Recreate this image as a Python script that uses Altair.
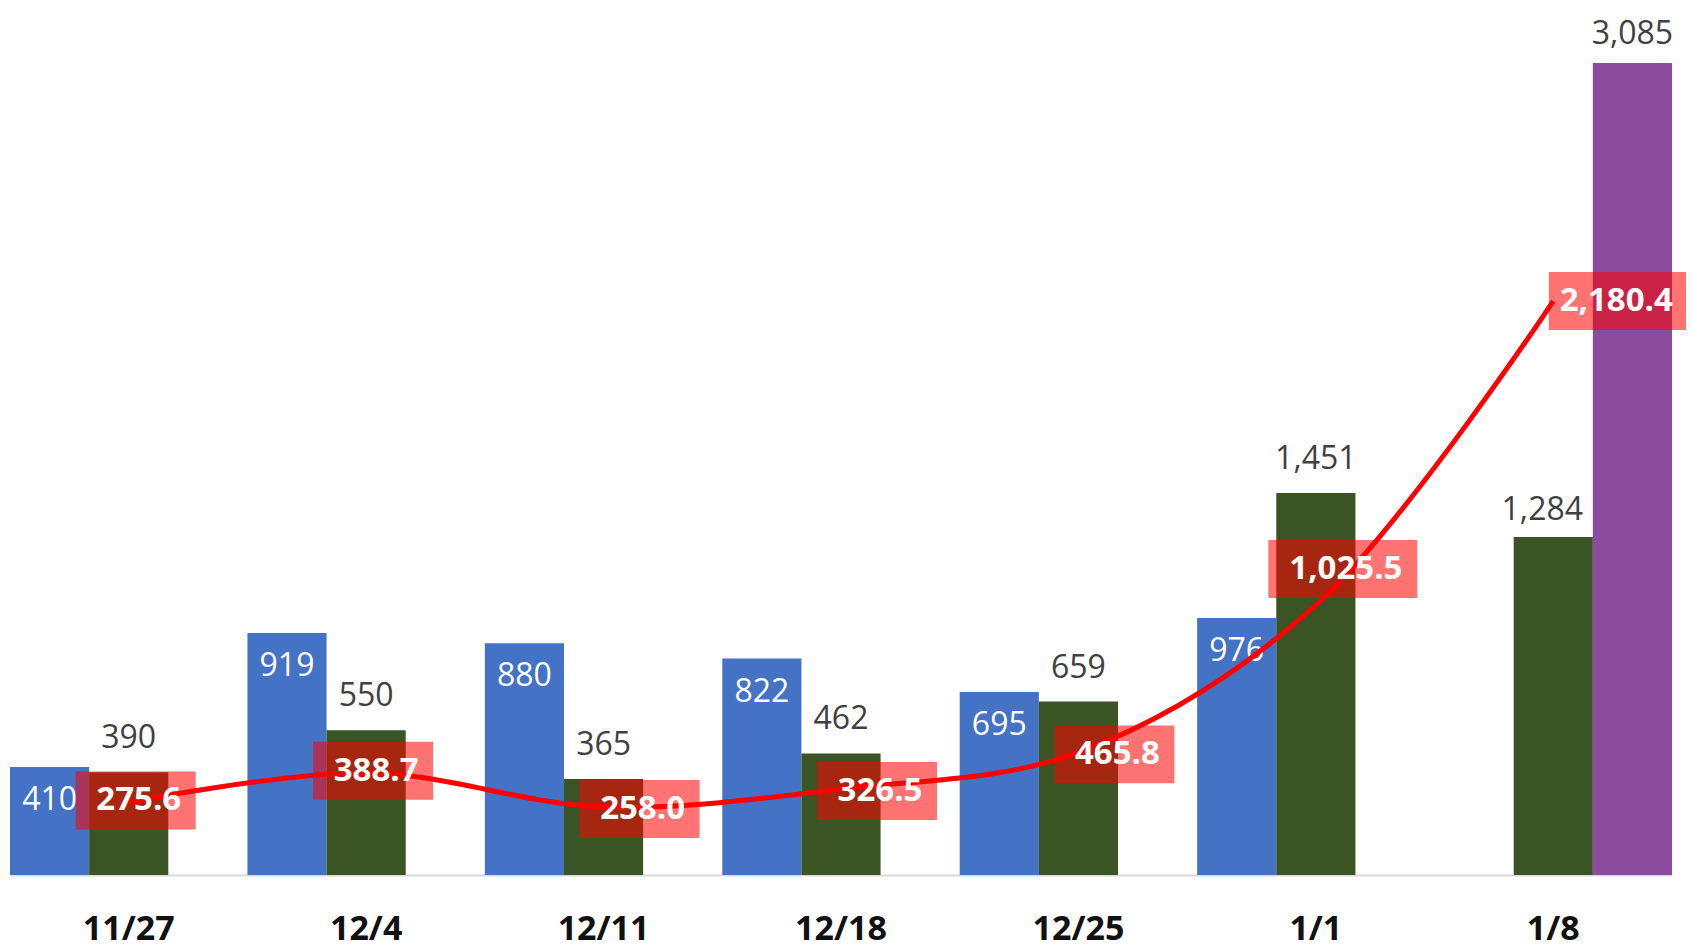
import altair as alt
import pandas as pd

weeks = ["11/27", "12/4", "12/11", "12/18", "12/25", "1/1", "1/8"]
blue_vals = [410, 919, 880, 822, 695, 976, None]
green_vals = [390, 550, 365, 462, 659, 1451, 1284]
purple_vals = [None, None, None, None, None, None, 3085]
line_vals = [275.6, 388.7, 258.0, 326.5, 465.8, 1025.5, 2180.4]

series_names = ["a", "b", "c"]
series_colors = ["#4472C4", "#3A5423", "#8B4C9E"]

rows = []
for i, w in enumerate(weeks):
    for s, arr in zip(series_names, (blue_vals, green_vals, purple_vals)):
        if arr[i] is not None:
            rows.append({"week": w, "series": s, "value": arr[i]})
bars_df = pd.DataFrame(rows)
line_df = pd.DataFrame({"week": weeks, "value": line_vals})

FONT = "Open Sans"

x_enc = alt.X(
    "week:N",
    sort=weeks,
    scale=alt.Scale(domain=weeks, paddingInner=0, paddingOuter=0),
    axis=alt.Axis(
        title=None, labelAngle=0, ticks=False, grid=False,
        domainColor="#D9D9D9", domainWidth=2,
        labelFont=FONT, labelFontSize=34, labelFontWeight="bold",
        labelColor="#111111", labelPadding=37,
    ),
)
y_enc = alt.Y("value:Q", scale=alt.Scale(domain=[0, 3248], nice=False, zero=True), axis=None)
xoff = alt.XOffset("series:N", scale=alt.Scale(domain=series_names, paddingInner=0, paddingOuter=0))

base_bars = alt.Chart(bars_df).encode(x=x_enc, y=y_enc, xOffset=xoff)

bars = base_bars.mark_bar().encode(
    color=alt.Color("series:N", scale=alt.Scale(domain=series_names, range=series_colors), legend=None)
)

blue_labels = base_bars.transform_filter(alt.datum.series == "a").mark_text(
    font=FONT, fontSize=32, color="white", baseline="alphabetic", dy=43
).encode(text=alt.Text("value:Q", format=",d"))

green_labels = base_bars.transform_filter(
    (alt.datum.series == "b") & (alt.datum.week != "1/8")
).mark_text(
    font=FONT, fontSize=32, color="#404040", baseline="alphabetic", dy=-24
).encode(text=alt.Text("value:Q", format=",d"))

green_last_label = base_bars.transform_filter(
    (alt.datum.series == "b") & (alt.datum.week == "1/8")
).mark_text(
    font=FONT, fontSize=32, color="#404040", baseline="alphabetic", dy=-17, dx=-11
).encode(text=alt.Text("value:Q", format=",d"))

purple_labels = base_bars.transform_filter(alt.datum.series == "c").mark_text(
    font=FONT, fontSize=32, color="#404040", baseline="alphabetic", dy=-19
).encode(text=alt.Text("value:Q", format=",d"))

base_line = alt.Chart(line_df).encode(x=x_enc, y=y_enc)
line = base_line.mark_line(color="#FF0000", strokeWidth=5, interpolate="catmull-rom")

short_box = "M-1,-0.483L1,-0.483L1,0.483L-1,0.483Z"
long_box = "M-1,-0.39L1,-0.39L1,0.39L-1,0.39Z"

# (weeks, box x-offset, text x-offset, y-offset)
label_groups = [
    (["11/27", "12/4"], 7, 10, -2),
    (["12/11", "12/18", "12/25"], 36, 39, 2),
    (["1/1"], 27, 30, -36),
    (["1/8"], 70, 63, 0),
]

label_layers = []
for group, bdx, tdx, dy in label_groups:
    g = base_line.transform_filter(alt.FieldOneOfPredicate(field="week", oneOf=group))
    box = g.mark_point(
        filled=True, color="#FF0000", opacity=0.55, strokeWidth=0,
        xOffset=bdx, yOffset=dy,
    ).encode(
        shape=alt.condition(alt.datum.value >= 1000, alt.value(long_box), alt.value(short_box)),
        size=alt.condition(alt.datum.value >= 1000, alt.value(22201), alt.value(14400)),
    )
    txt = g.mark_text(
        font=FONT, fontSize=33, fontWeight="bold", color="white",
        baseline="middle", xOffset=tdx, yOffset=dy,
    ).encode(text=alt.Text("value:Q", format=",.1f"))
    label_layers += [box, txt]

chart = alt.layer(
    bars, blue_labels, green_labels, green_last_label, purple_labels, line, *label_layers
).properties(
    width=1662, height=855,
    autosize=alt.AutoSizeParams(type="none"),
    padding={"left": 2, "top": 12, "right": 14, "bottom": 74},
).configure_view(stroke=None)

chart.save("out.html", embed_options={"renderer": "svg", "actions": False})
